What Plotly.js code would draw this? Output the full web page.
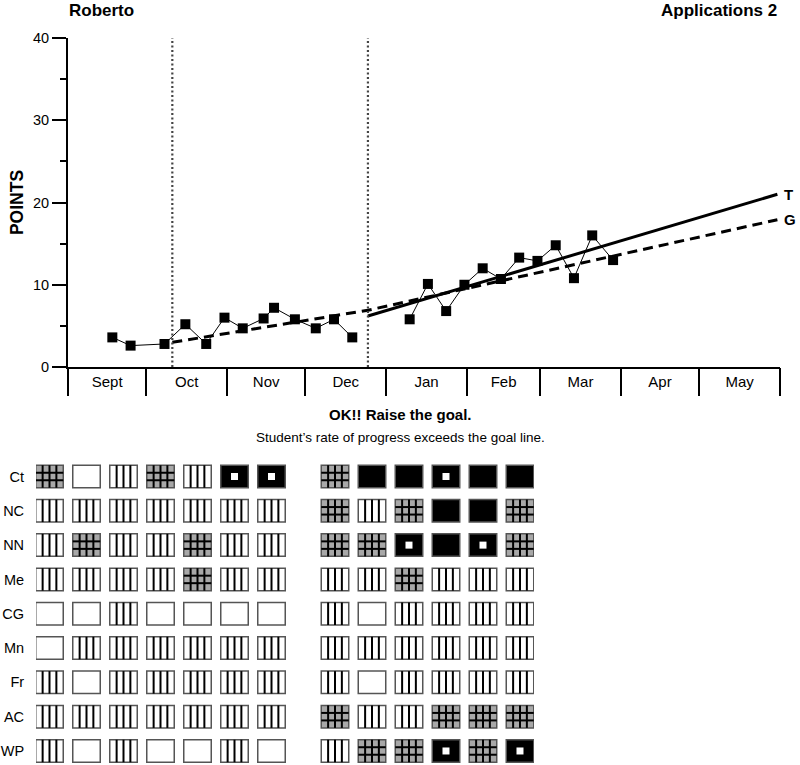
<!DOCTYPE html>
<html>
<head>
<meta charset="utf-8">
<script src="https://cdn.plot.ly/plotly-3.0.1.min.js"></script>
<style>html,body{margin:0;padding:0;background:#fff;}#chart{width:800px;height:765px;}</style>
</head>
<body>
<div id="chart"></div>
<script>
// ---------- data ----------
const studentName = 'Roberto';
const probeName = 'Applications 2';
const decisionTitle = 'OK!! Raise the goal.';
const decisionText = 'Student\u2019s rate of progress exceeds the goal line.';

const fallDates = ['2006-09-18','2006-09-25','2006-10-08','2006-10-16','2006-10-24','2006-10-31','2006-11-07','2006-11-15','2006-11-19','2006-11-27','2006-12-05','2006-12-12','2006-12-19'];
const fallPoints = [3.6, 2.6, 2.8, 5.2, 2.8, 6.0, 4.7, 5.9, 7.2, 5.8, 4.7, 5.8, 3.6];
const winterDates = ['2007-01-10','2007-01-17','2007-01-24','2007-01-31','2007-02-07','2007-02-14','2007-02-21','2007-02-28','2007-03-07','2007-03-14','2007-03-21','2007-03-29'];
const winterPoints = [5.8, 10.1, 6.8, 10.0, 12.0, 10.7, 13.3, 12.9, 14.8, 10.8, 16.0, 13.0];

const phaseChangeDates = ['2006-10-11', '2006-12-25'];
const goalDates = ['2006-10-11', '2006-12-25', '2007-05-31'];
const goalValues = [3.0, 6.9, 17.9];
const trendDates = ['2006-12-25', '2007-05-31'];
const trendValues = [6.2, 21.0];

const yearStart = '2006-09-01';
const yearEnd = '2007-06-01';

// skills profile: G = grid (partly mastered), B = blank, S = striped, K = solid, D = solid with centre dot
const skillLabels = ['Ct','NC','NN','Me','CG','Mn','Fr','AC','WP'];
const fallProfile   = ['GBSGSDD','SSSSSSS','SGSSGSS','SSSSGSS','BBSBBBB','BSSSSSS','SBSSSSS','SSSSSSS','SBSBBSB'];
const winterProfile = ['GKKDKK','GSGKKG','GGDKDG','SSGSSS','SBSSSS','SSSSSS','SBSSSS','GSSGGG','SGGDGD'];

// ---------- styling ----------
const FONT = 'Liberation Sans, Arial, Helvetica, sans-serif';
const W = 800, H = 765;
const px = v => v / W, py = v => 1 - v / H;

// grid geometry (in grid axis units)
const CELL_W = 0.743, CELL_H = 0.656, GROUP_GAP = 0.716;
const fillFor = {G: '#a8a8a8', B: '#ffffff', S: '#ffffff', K: '#000000', D: '#000000'};

const cellY = [], cellBase = [], cellLen = [], cellColor = [];
const lx = [], ly = [];
const dotX = [], dotY = [];
function addCell(code, col, row) {
  const x0 = col - CELL_W / 2, x1 = col + CELL_W / 2;
  const y0 = row - CELL_H / 2, y1 = row + CELL_H / 2;
  cellY.push(row); cellBase.push(x0); cellLen.push(CELL_W); cellColor.push(fillFor[code]);
  if (code === 'S' || code === 'G') {
    for (let q = 1; q <= 3; q++) {
      const xx = x0 + CELL_W * q / 4;
      lx.push(xx, xx, null); ly.push(y0, y1, null);
    }
  }
  if (code === 'G') {
    for (let q = 1; q <= 2; q++) {
      const yy = y0 + CELL_H * q / 3;
      lx.push(x0, x1, null); ly.push(yy, yy, null);
    }
  }
  if (code === 'D') { dotX.push(col); dotY.push(row); }
}
skillLabels.forEach((lab, r) => {
  fallProfile[r].split('').forEach((c, i) => addCell(c, i, r));
  winterProfile[r].split('').forEach((c, j) => addCell(c, fallProfile[r].length + GROUP_GAP + j, r));
});

const traces = [
  // phase change lines
  ...phaseChangeDates.map(d => ({
    x: [d, d], y: [0, 40], xaxis: 'x2', yaxis: 'y', mode: 'lines', type: 'scatter',
    line: {color: '#444', width: 2.2, dash: '2px,2.5px'}, hoverinfo: 'skip', showlegend: false
  })),
  {x: goalDates, y: goalValues, mode: 'lines', type: 'scatter', line: {color: '#000', width: 3, dash: '10px,6px'}, showlegend: false},
  {x: trendDates, y: trendValues, mode: 'lines', type: 'scatter', line: {color: '#000', width: 3}, showlegend: false},
  {x: fallDates, y: fallPoints, mode: 'lines+markers', type: 'scatter', line: {color: '#000', width: 1},
   marker: {symbol: 'square', size: 10, color: '#000'}, showlegend: false, cliponaxis: false},
  {x: winterDates, y: winterPoints, mode: 'lines+markers', type: 'scatter', line: {color: '#000', width: 1},
   marker: {symbol: 'square', size: 10, color: '#000'}, showlegend: false, cliponaxis: false},
  // skills grid
  {type: 'bar', orientation: 'h', y: cellY, x: cellLen, base: cellBase, width: CELL_H,
   xaxis: 'x3', yaxis: 'y3', marker: {color: cellColor, line: {color: '#555', width: 1.5}}, showlegend: false, hoverinfo: 'skip'},
  {type: 'scatter', mode: 'lines', x: lx, y: ly, xaxis: 'x3', yaxis: 'y3', line: {color: '#000', width: 2},
   connectgaps: false, showlegend: false, hoverinfo: 'skip'},
  {type: 'scatter', mode: 'markers', x: dotX, y: dotY, xaxis: 'x3', yaxis: 'y3',
   marker: {symbol: 'square', size: 7, color: '#fff', line: {width: 0}}, showlegend: false, hoverinfo: 'skip'}
];

const xDomain = [px(68), px(780)];
const layout = {
  width: W, height: H,
  margin: {l: 0, r: 0, t: 0, b: 0},
  paper_bgcolor: '#fff', plot_bgcolor: 'rgba(0,0,0,0)',
  font: {family: FONT, size: 14.5, color: '#000'},
  showlegend: false,
  barmode: 'overlay',
  xaxis: {
    type: 'date', domain: xDomain, range: [yearStart, yearEnd], anchor: 'y',
    showline: true, linecolor: '#000', linewidth: 2, showgrid: false, zeroline: false,
    tick0: yearStart, dtick: 'M1', ticklabelmode: 'period', tickformat: '%b',
    labelalias: {'Sep': 'Sept'}, ticks: '', tickfont: {size: 15}, ticklabelstandoff: 0
  },
  xaxis2: {
    type: 'date', domain: xDomain, range: [yearStart, yearEnd], overlaying: 'x', anchor: 'y', side: 'bottom',
    showline: false, showgrid: false, zeroline: false, showticklabels: false,
    tick0: yearStart, dtick: 'M1', ticks: 'outside', ticklen: 28, tickwidth: 2, tickcolor: '#000'
  },
  yaxis: {
    domain: [py(367), py(38)], range: [0, 40], anchor: 'x',
    showline: true, linecolor: '#000', linewidth: 2, showgrid: false, zeroline: false,
    dtick: 10, ticks: 'outside', ticklen: 14, tickwidth: 2, tickcolor: '#000',
    minor: {dtick: 5, ticks: 'outside', ticklen: 6, tickwidth: 2, tickcolor: '#000', showgrid: false},
    tickfont: {size: 14.5},
    title: {text: 'POINTS', font: {size: 17.5, weight: 'bold'}, standoff: 5}
  },
  xaxis3: {
    domain: [px(36), px(534)], range: [(36 - 49.5) / 37, (534 - 49.5) / 37], anchor: 'y3',
    visible: false, fixedrange: true
  },
  yaxis3: {
    domain: [0, py(455)], range: [(765 - 476.5) / 34.31, (455 - 476.5) / 34.31], anchor: 'x3',
    showline: false, showgrid: false, zeroline: false,
    tickmode: 'array', tickvals: skillLabels.map((_, i) => i), ticktext: skillLabels,
    ticks: 'outside', ticklen: 8, tickcolor: 'rgba(0,0,0,0)', tickfont: {size: 14.5}
  },
  annotations: [
    {xref: 'paper', yref: 'paper', x: px(67), y: py(11), xanchor: 'left', yanchor: 'middle', showarrow: false,
     text: studentName, font: {size: 17, weight: 'bold'}},
    {xref: 'paper', yref: 'paper', x: px(779), y: py(11), xanchor: 'right', yanchor: 'middle', showarrow: false,
     text: probeName, font: {size: 17, weight: 'bold'}},
    {xref: 'paper', yref: 'paper', x: px(400), y: py(415), xanchor: 'center', yanchor: 'middle', showarrow: false,
     text: decisionTitle, font: {size: 15, weight: 'bold'}},
    {xref: 'paper', yref: 'paper', x: px(400), y: py(437), xanchor: 'center', yanchor: 'middle', showarrow: false,
     text: decisionText, font: {size: 13.5}},
    {xref: 'x', yref: 'y', x: trendDates[trendDates.length - 1], y: trendValues[trendValues.length - 1],
     xanchor: 'left', yanchor: 'middle', xshift: 5, showarrow: false, text: 'T', font: {size: 15, weight: 'bold'}},
    {xref: 'x', yref: 'y', x: goalDates[goalDates.length - 1], y: goalValues[goalValues.length - 1],
     xanchor: 'left', yanchor: 'middle', xshift: 5, showarrow: false, text: 'G', font: {size: 15, weight: 'bold'}}
  ]
};

Plotly.newPlot('chart', traces, layout, {displayModeBar: false, staticPlot: true});
</script>
</body>
</html>
